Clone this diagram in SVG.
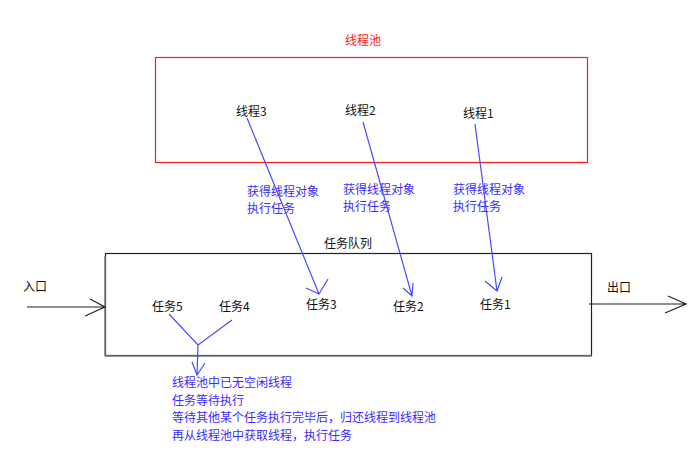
<svg xmlns="http://www.w3.org/2000/svg" width="693" height="451" viewBox="0 0 693 451">
<style>
text{font-family:"Microsoft YaHei","Noto Sans CJK SC","Liberation Sans",sans-serif;font-size:12px;}
.blk{fill:#111;}
.blu{fill:#3a2cff;}
.red{fill:#ff2020;}
.ln{stroke:#4a4aff;stroke-width:1.2;fill:none;}
.gr{stroke:#222;stroke-width:1.2;fill:none;}
</style>
<rect width="693" height="451" fill="#fff"/>
<g id="pool">
<rect x="155.5" y="57.5" width="432" height="105" fill="none" stroke="#ff1a1a" stroke-width="1.2"/>
<text class="red" x="363" y="45" text-anchor="middle">线程池</text>
</g>
<g id="thread3"><text class="blk" x="236" y="116">线程3</text></g>
<g id="thread2"><text class="blk" x="345" y="115">线程2</text></g>
<g id="thread1"><text class="blk" x="463" y="118">线程1</text></g>
<g id="queue">
<rect x="105.5" y="253.5" width="486" height="102" fill="none" stroke="#222" stroke-width="1.2"/>
<line x1="105" y1="256" x2="105" y2="356" stroke="#777" stroke-width="1.5"/>
<line x1="105" y1="356" x2="592" y2="356" stroke="#777" stroke-width="1.5"/>
<text class="blk" x="348" y="248" text-anchor="middle">任务队列</text>
</g>
<g id="task5"><text class="blk" x="152" y="311">任务5</text></g>
<g id="task4"><text class="blk" x="219" y="311">任务4</text></g>
<g id="task3"><text class="blk" x="306" y="309">任务3</text></g>
<g id="task2"><text class="blk" x="393" y="311">任务2</text></g>
<g id="task1"><text class="blk" x="480" y="309">任务1</text></g>
<g id="entry"><text class="blk" x="23" y="291">入口</text></g>
<g id="exit"><text class="blk" x="607" y="292">出口</text></g>
<g id="labels">
<text class="blu" x="247" y="196">获得线程对象</text>
<text class="blu" x="247" y="213">执行任务</text>
<text class="blu" x="343" y="194">获得线程对象</text>
<text class="blu" x="343" y="211">执行任务</text>
<text class="blu" x="453" y="194">获得线程对象</text>
<text class="blu" x="453" y="211">执行任务</text>
<text class="blu" x="172" y="387">线程池中已无空闲线程</text>
<text class="blu" x="172" y="405">任务等待执行</text>
<text class="blu" x="172" y="422">等待其他某个任务执行完毕后，归还线程到线程池</text>
<text class="blu" x="172" y="440">再从线程池中获取线程，执行任务</text>
</g>
<g id="connectors">
<path class="ln" d="M247,118 L319,294 M306,288 L319,294 L328,279"/>
<path class="ln" d="M363,122 L412,296 M403,288 L412,296 L413,283"/>
<path class="ln" d="M475,124 L497,291 M485,281 L497,291 L502,277"/>
<path class="ln" d="M169,314 L198,345 L232,320 M198,345 L197,375 M192,362 L197,375 L205,363"/>
<path class="gr" d="M27,307 L105,307 M90,299 L105,307 L85,316"/>
<path class="gr" d="M589,304 L686,304 M668,296 L686,304 L665,313"/>
</g>
</svg>
